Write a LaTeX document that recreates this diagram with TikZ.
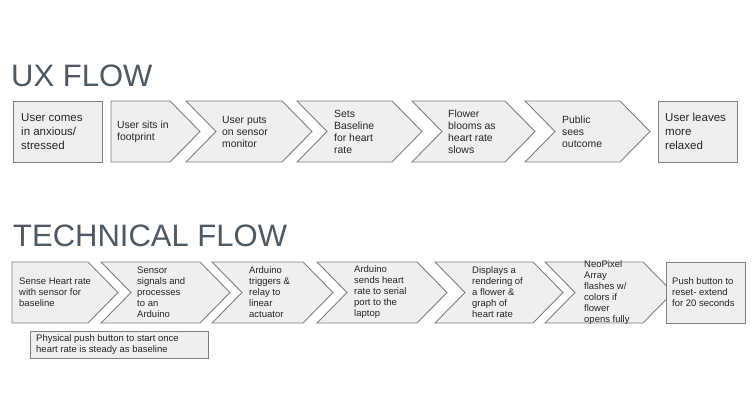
\documentclass[tikz,border=0pt]{standalone}
\usepackage{fontspec}
\setmainfont{Liberation Sans}
\definecolor{titlegray}{HTML}{4F5963}
\definecolor{boxfill}{HTML}{EFEFEF}
\definecolor{boxline}{HTML}{808080}
\tikzset{
	box/.style={draw=boxline, fill=boxfill, line width=.9pt, line join=miter},
	title/.style={font=\fontsize{31}{35}\selectfont, text=titlegray, inner sep=0pt, anchor=base west},
	stagetext/.style={align=left, inner sep=0pt, anchor=west, text=black!85}
}
% stage: name, left x, corner x, notch, top y, bottom y, text x, text
\newcommand{\stage}[8]{
	\draw[box](#2, #5)--(#3, #5)--({#3+30}, {(#5+#6)/2})--(#3, #6)--(#2, #6)--({#2+#4}, {(#5+#6)/2})--cycle;
	\node[stagetext](#1) at (#7, {(#5+#6)/2}){#8};
}

\begin{document}
\begin{tikzpicture}[x=1pt, y=-1pt]
    \useasboundingbox[fill=white](0, 0) rectangle (752, 408);
    \node[title](uxtitle) at (11, 86){UX FLOW};
    \begin{scope}[stagetext/.append style={font=\fontsize{10.4}{12}\selectfont}]
        \draw[box](13, 101) rectangle (102, 162);
        \node[stagetext, font=\fontsize{11.5}{14.3}\selectfont](comes) at (21, 131.5){User comes\\in anxious/\\stressed};
        \stage{sits}{111}{170}{0}{101}{162}{117}{User sits in\\footprint}
        \stage{puts}{186}{282}{30}{101}{162}{222}{User puts\\on sensor\\monitor}
        \stage{baseline}{297}{392}{30}{101}{162}{334}{Sets\\Baseline\\for heart\\rate}
        \stage{blooms}{412}{505}{30}{101}{162}{448}{Flower\\blooms as\\heart rate\\slows}
        \stage{public}{525}{620}{30}{101}{162}{562}{Public\\sees\\outcome}
        \draw[box](658, 101) rectangle (737, 162);
        \node[stagetext, font=\fontsize{11.5}{14.3}\selectfont](leaves) at (665, 131.5){User leaves\\more\\relaxed};
    \end{scope}
    \node[title](techtitle) at (13, 246){TECHNICAL FLOW};
    \begin{scope}[stagetext/.append style={font=\fontsize{9.5}{11}\selectfont}]
        \stage{sense}{12}{88}{0}{262}{323}{19}{Sense Heart rate\\with sensor for\\baseline}
        \stage{signals}{101}{200}{30}{262}{323}{137}{Sensor\\signals and\\processes\\to an\\Arduino}
        \stage{relay}{212}{303}{30}{262}{323}{249}{Arduino\\triggers \&\\relay to\\linear\\actuator}
        \stage{serial}{317}{417}{30}{262}{323}{354}{Arduino\\sends heart\\rate to serial\\port to the\\laptop}
        \stage{render}{435}{533}{30}{262}{323}{472}{Displays a\\rendering of\\a flower \&\\graph of\\heart rate}
        \stage{neopixel}{545}{643}{30}{262}{323}{584}{NeoPixel\\Array\\flashes w/\\colors if\\flower\\opens fully}
        \draw[box](666, 262) rectangle (745, 323);
        \node[stagetext](reset) at (672, 292.5){Push button to\\reset- extend\\for 20 seconds};
        \draw[box](30, 331) rectangle (208, 358);
        \node[stagetext](start) at (36, 344.5){Physical push button to start once\\heart rate is steady as baseline};
    \end{scope}
\end{tikzpicture}
\end{document}
